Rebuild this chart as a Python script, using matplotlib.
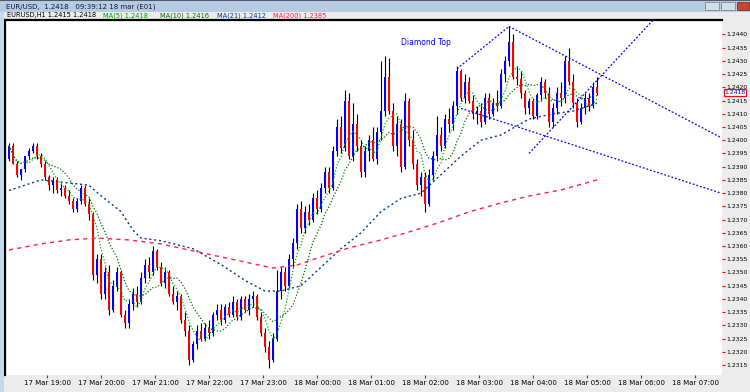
import matplotlib
matplotlib.use("Agg")
import matplotlib.pyplot as plt
from matplotlib.patches import Rectangle
import numpy as np
import pandas as pd

W, H = 750, 392

# hourly candles, EUR/USD
opens = [1.2393, 1.2398, 1.2391, 1.2387, 1.2389, 1.2394, 1.2396, 1.2398, 1.2394, 1.2391,
         1.2386, 1.2383, 1.2385, 1.2381, 1.2382, 1.2379, 1.2377, 1.2374, 1.2377, 1.2382,
         1.2376, 1.2372, 1.2349, 1.2355, 1.2342, 1.2350, 1.2336, 1.2345, 1.2350, 1.2334,
         1.2331, 1.2338, 1.2342, 1.2339, 1.2348, 1.2353, 1.2350, 1.2358, 1.2352, 1.2346,
         1.2350, 1.2342, 1.2339, 1.2341, 1.2332, 1.2328, 1.2317, 1.2323, 1.2328, 1.2325,
         1.2329, 1.2327, 1.2334, 1.2336, 1.2332, 1.2337, 1.2334, 1.2339, 1.2333, 1.2340,
         1.2336, 1.2340, 1.2341, 1.2333, 1.2327, 1.2322, 1.2317, 1.2325, 1.2343, 1.2350,
         1.2345, 1.2355, 1.2361, 1.2374, 1.2367, 1.2373, 1.2370, 1.2378, 1.2374, 1.2382,
         1.2388, 1.2382, 1.2396, 1.2405, 1.2397, 1.2415, 1.2394, 1.2406, 1.2398, 1.2388,
         1.2396, 1.2400, 1.2393, 1.2403, 1.2411, 1.2424, 1.2411, 1.2398, 1.2406, 1.2390,
         1.2415, 1.2400, 1.2391, 1.2383, 1.2386, 1.2376, 1.2387, 1.2394, 1.2402, 1.2398,
         1.2408, 1.2406, 1.2413, 1.2426, 1.2416, 1.2422, 1.2415, 1.2410, 1.2411, 1.2407,
         1.2416, 1.2410, 1.2414, 1.2413, 1.2425, 1.2430, 1.2437, 1.2424, 1.2423, 1.2418,
         1.2412, 1.2415, 1.2409, 1.2417, 1.2422, 1.2418, 1.2407, 1.2412, 1.2418, 1.2416,
         1.2430, 1.2422, 1.2414, 1.2407, 1.2412, 1.2416, 1.2413, 1.2420]
highs = [1.2399, 1.2399, 1.2392, 1.2389, 1.2394, 1.2397, 1.2399, 1.2399, 1.2395, 1.2392,
         1.2387, 1.2386, 1.2386, 1.2384, 1.2383, 1.2381, 1.2378, 1.2378, 1.2383, 1.2383,
         1.2378, 1.2373, 1.2357, 1.2357, 1.2352, 1.2353, 1.2347, 1.2352, 1.2351, 1.2336,
         1.2340, 1.2344, 1.2345, 1.2350, 1.2355, 1.2356, 1.2360, 1.2359, 1.2354, 1.2352,
         1.2351, 1.2345, 1.2343, 1.2342, 1.2335, 1.2330, 1.2324, 1.2330, 1.2331, 1.2331,
         1.2332, 1.2335, 1.2338, 1.2338, 1.2338, 1.2339, 1.2341, 1.2340, 1.2341, 1.2341,
         1.2342, 1.2343, 1.2342, 1.2335, 1.2329, 1.2324, 1.2327, 1.2351, 1.2352, 1.2352,
         1.2357, 1.2363, 1.2376, 1.2377, 1.2375, 1.2376, 1.2380, 1.2381, 1.2384, 1.2390,
         1.2390, 1.2398, 1.2408, 1.2409, 1.2419, 1.2418, 1.2414, 1.2410, 1.2400, 1.2398,
         1.2402, 1.2405, 1.2405, 1.2430, 1.2432, 1.2431, 1.2414, 1.2409, 1.2408, 1.2418,
         1.2416, 1.2404, 1.2393, 1.2388, 1.2388, 1.2389, 1.2396, 1.2409, 1.2405, 1.2410,
         1.2412, 1.2415, 1.2428, 1.2427, 1.2425, 1.2424, 1.2417, 1.2413, 1.2414, 1.2418,
         1.2418, 1.2416, 1.2419, 1.2427, 1.2432, 1.2443, 1.2440, 1.2428, 1.2426, 1.2419,
         1.2416, 1.2416, 1.2418, 1.2424, 1.2423, 1.2420, 1.2414, 1.2420, 1.2422, 1.2432,
         1.2435, 1.2425, 1.2416, 1.2414, 1.2418, 1.2418, 1.2422, 1.2424]
lows = [1.2392, 1.2391, 1.2386, 1.2385, 1.2388, 1.2393, 1.2395, 1.2393, 1.2390, 1.2385,
        1.2381, 1.2380, 1.2380, 1.2379, 1.2378, 1.2376, 1.2373, 1.2373, 1.2376, 1.2375,
        1.2370, 1.2347, 1.2346, 1.2340, 1.2340, 1.2334, 1.2335, 1.2343, 1.2333, 1.2329,
        1.2329, 1.2336, 1.2337, 1.2338, 1.2346, 1.2348, 1.2349, 1.2351, 1.2345, 1.2344,
        1.2341, 1.2338, 1.2336, 1.2331, 1.2326, 1.2315, 1.2316, 1.2321, 1.2324, 1.2324,
        1.2325, 1.2326, 1.2332, 1.2330, 1.2331, 1.2333, 1.2333, 1.2332, 1.2332, 1.2335,
        1.2334, 1.2337, 1.2332, 1.2326, 1.2320, 1.2314, 1.2316, 1.2324, 1.2340, 1.2343,
        1.2344, 1.2352, 1.2359, 1.2365, 1.2365, 1.2368, 1.2369, 1.2372, 1.2373, 1.2380,
        1.2380, 1.2381, 1.2394, 1.2395, 1.2396, 1.2393, 1.2392, 1.2396, 1.2386, 1.2386,
        1.2392, 1.2392, 1.2391, 1.2400, 1.2409, 1.2410, 1.2396, 1.2394, 1.2388, 1.2389,
        1.2398, 1.2389, 1.2381, 1.2379, 1.2373, 1.2375, 1.2385, 1.2392, 1.2396, 1.2397,
        1.2403, 1.2404, 1.2410, 1.2415, 1.2414, 1.2414, 1.2408, 1.2406, 1.2405, 1.2406,
        1.2408, 1.2409, 1.2411, 1.2412, 1.2422, 1.2428, 1.2423, 1.2421, 1.2416, 1.2410,
        1.2410, 1.2408, 1.2408, 1.2415, 1.2416, 1.2405, 1.2405, 1.2410, 1.2413, 1.2414,
        1.2421, 1.2412, 1.2405, 1.2406, 1.2410, 1.2411, 1.2412, 1.2417]
closes = [1.2398, 1.2391, 1.2387, 1.2389, 1.2394, 1.2396, 1.2398, 1.2394, 1.2391, 1.2386,
          1.2383, 1.2385, 1.2381, 1.2382, 1.2379, 1.2377, 1.2374, 1.2377, 1.2382, 1.2376,
          1.2372, 1.2349, 1.2355, 1.2342, 1.2350, 1.2336, 1.2345, 1.2350, 1.2334, 1.2331,
          1.2338, 1.2342, 1.2339, 1.2348, 1.2353, 1.2350, 1.2358, 1.2352, 1.2346, 1.2350,
          1.2342, 1.2339, 1.2341, 1.2332, 1.2328, 1.2317, 1.2323, 1.2328, 1.2325, 1.2329,
          1.2327, 1.2334, 1.2336, 1.2332, 1.2337, 1.2334, 1.2339, 1.2333, 1.2340, 1.2336,
          1.2340, 1.2341, 1.2333, 1.2327, 1.2322, 1.2317, 1.2325, 1.2343, 1.2350, 1.2345,
          1.2355, 1.2361, 1.2374, 1.2367, 1.2373, 1.2370, 1.2378, 1.2374, 1.2382, 1.2388,
          1.2382, 1.2396, 1.2405, 1.2397, 1.2415, 1.2394, 1.2406, 1.2398, 1.2388, 1.2396,
          1.2400, 1.2393, 1.2403, 1.2411, 1.2424, 1.2411, 1.2398, 1.2406, 1.2390, 1.2415,
          1.2400, 1.2391, 1.2383, 1.2386, 1.2376, 1.2387, 1.2394, 1.2402, 1.2398, 1.2408,
          1.2406, 1.2413, 1.2426, 1.2416, 1.2422, 1.2415, 1.2410, 1.2411, 1.2407, 1.2416,
          1.2410, 1.2414, 1.2413, 1.2425, 1.2430, 1.2437, 1.2424, 1.2423, 1.2418, 1.2412,
          1.2415, 1.2409, 1.2417, 1.2422, 1.2418, 1.2407, 1.2412, 1.2418, 1.2416, 1.2430,
          1.2422, 1.2414, 1.2407, 1.2412, 1.2416, 1.2413, 1.2420, 1.2418]

# slow moving averages (bar index, price)
ma_blue_idx = [0, 8, 14, 20, 23, 28, 31, 33, 38, 46, 53, 59, 64, 68, 73, 78, 83, 88,
               93, 98, 103, 108, 113, 118, 123, 130, 136, 141, 147]
ma_blue = [1.2381, 1.2385, 1.2384, 1.2383, 1.2379, 1.2373, 1.2366, 1.2363, 1.2362,
           1.2359, 1.2353, 1.2347, 1.2343, 1.2343, 1.2345, 1.2352, 1.2359, 1.2365,
           1.2373, 1.2378, 1.2380, 1.2387, 1.2394, 1.2400, 1.2402, 1.2408, 1.2410,
           1.2411, 1.2414]
ma_red_idx = [0, 8, 15, 22, 30, 38, 45, 53, 60, 66, 72, 78, 85, 93, 100, 108, 115,
              123, 130, 138, 147]
ma_red = [1.23585, 1.23608, 1.23623, 1.23630, 1.23623, 1.23608, 1.23585, 1.23559,
          1.23536, 1.23517, 1.23528, 1.23559, 1.23593, 1.23623, 1.23653, 1.23691,
          1.23729, 1.23763, 1.23789, 1.23812, 1.23850]

# diamond top trend lines
diamond_x = [[112, 125], [125, 178], [113, 178], [130, 162]]
diamond_y = [[1.2427, 1.2443], [1.2443, 1.2401], [1.2412, 1.2380], [1.2395, 1.2447]]

y_ticks = [1.2315, 1.2320, 1.2325, 1.2330, 1.2335, 1.2340, 1.2345, 1.2350, 1.2355,
           1.2360, 1.2365, 1.2370, 1.2375, 1.2380, 1.2385, 1.2390, 1.2395, 1.2400,
           1.2405, 1.2410, 1.2415, 1.2420, 1.2425, 1.2430, 1.2435, 1.2440]
x_labels = ["17 Mar 19:00", "17 Mar 20:00", "17 Mar 21:00", "17 Mar 22:00",
            "17 Mar 23:00", "18 Mar 00:00", "18 Mar 01:00", "18 Mar 02:00",
            "18 Mar 03:00", "18 Mar 04:00", "18 Mar 05:00", "18 Mar 06:00",
            "18 Mar 07:00"]
last_price = 1.2418


def frect(fig, x0, y0, x1, y1, color, ec="none"):
    fig.add_artist(Rectangle((x0 / W, 1 - y1 / H), (x1 - x0) / W, (y1 - y0) / H,
                             transform=fig.transFigure, facecolor=color,
                             edgecolor=ec, lw=0.6))


fig = plt.figure(figsize=(W / 100, H / 100), dpi=100)
fig.patch.set_facecolor("#ececec")

# window chrome
frect(fig, 0, 0, W, 12, "#b6cae2")
frect(fig, 0, 0, W, 1, "#505a6a")
frect(fig, 0, 12, 4, H, "#c4d8ee")
frect(fig, 705, 2, 719, 10, "#d4deea", "#7a8798")
frect(fig, 721, 2, 735, 10, "#d4deea", "#7a8798")
frect(fig, 737, 2, 749, 10, "#c8452e", "#7a3020")
fig.text(6 / W, 1 - 6.5 / H, "EUR/USD,  1.2418   09:39:12 18 mar (E01)",
         fontsize=5, color="#10183a", va="center")

ax = fig.add_axes([5 / W, (H - 375) / H, 717 / W, 355 / H])
ax.set_facecolor("white")

idx = np.arange(len(closes))
o = np.array(opens)
c = np.array(closes)
up = c > o
dn = c < o

ax.vlines(idx, lows, highs, color="black", lw=0.8, zorder=3)
ax.bar(idx[up], (c - o)[up], bottom=o[up], width=0.6, color="#0000ff", lw=0, zorder=4)
ax.bar(idx[dn], (o - c)[dn], bottom=c[dn], width=0.6, color="#ff0000", lw=0, zorder=4)

s = pd.Series(closes)
ax.plot(idx, s.rolling(5, min_periods=1).mean(), color="#00b000", ls=(0, (1, 1.5)),
        lw=0.9, zorder=5)
ax.plot(idx, s.rolling(10, min_periods=1).mean(), color="#006a00", ls=(0, (1, 1.5)),
        lw=0.9, zorder=5)
ax.plot(ma_blue_idx, ma_blue, color="#003c8c", ls=(0, (1.5, 2)), lw=1, zorder=5)
ax.plot(ma_red_idx, ma_red, color="#ff1e50", ls=(0, (3, 3)), lw=1, zorder=5)

for xs, ys in zip(diamond_x, diamond_y):
    ax.plot(xs, ys, color="#0000ff", ls=(0, (1.5, 1.5)), lw=0.9, zorder=6)
ax.text(98, 1.2437, "Diamond Top", color="#0000ff", fontsize=5.5, va="center")

ax.set_xlim(-1, 178.25)
ax.set_ylim(1.231125, 1.244544)

for side in ["right", "bottom"]:
    ax.spines[side].set_visible(False)
for side in ["left", "top"]:
    ax.spines[side].set_linewidth(1.6)
    ax.spines[side].set_color("black")

ax.yaxis.tick_right()
ax.set_yticks(y_ticks)
ax.set_yticklabels([f"{v:.4f}" for v in y_ticks])
ax.tick_params(axis="y", length=2, width=0.8, color="red", labelsize=4.4, pad=1)

x_pos = (47 + 54 * np.arange(len(x_labels)) - 9) / 4
ax.set_xticks(x_pos)
ax.set_xticklabels(x_labels)
ax.tick_params(axis="x", length=2, width=0.8, color="red", labelsize=5, pad=1.5)

# last price box on the price scale
ax.text(1.003, last_price, f"{last_price:.4f}", transform=ax.get_yaxis_transform(),
        fontsize=4.4, color="#0000ff", va="center", ha="left", zorder=10,
        bbox=dict(boxstyle="square,pad=0.1", fc="white", ec="red", lw=0.8))

# indicator header
hy = 1 - 15.5 / H
fig.text(7 / W, hy, "EURUSD,H1 1.2415 1.2418", fontsize=4.8, color="black", va="center")
fig.text(103 / W, hy, "MA(5) 1.2418", fontsize=4.8, color="#00a000", va="center")
fig.text(160 / W, hy, "MA(10) 1.2416", fontsize=4.8, color="#007000", va="center")
fig.text(217 / W, hy, "MA(21) 1.2412", fontsize=4.8, color="#003c8c", va="center")
fig.text(273 / W, hy, "MA(200) 1.2385", fontsize=4.8, color="#ff1e50", va="center")

fig.savefig("out.png", dpi=100)
